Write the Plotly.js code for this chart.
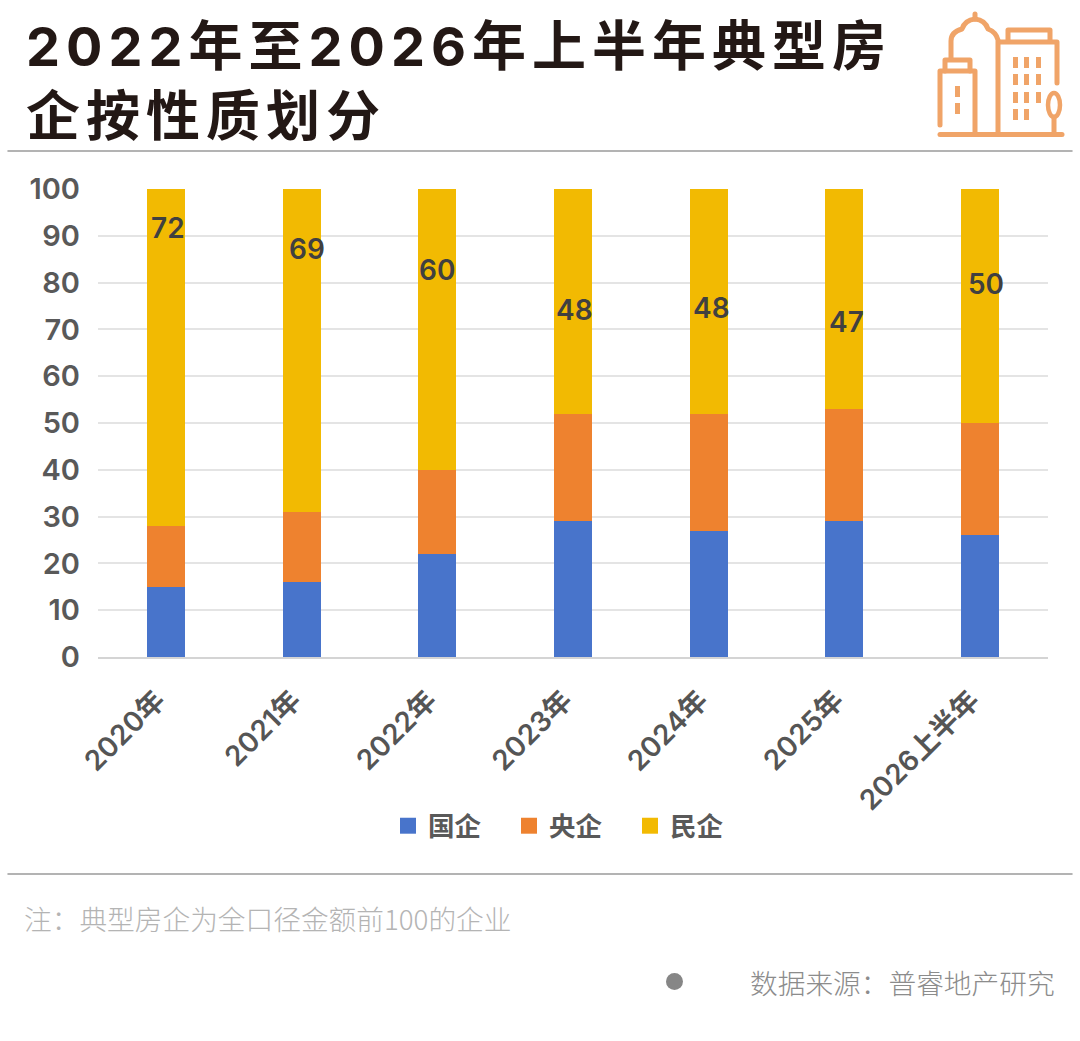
<!DOCTYPE html>
<html>
<head>
<meta charset="utf-8">
<script src="https://cdn.plot.ly/plotly-3.0.1.min.js"></script>
<style>
  body { margin: 0; background: #fff; }
  .gtitle { letter-spacing: 6px; }
  .shapelayer path { stroke-linecap: round; stroke-linejoin: round; }
  /* the legend squares are a bit bigger than plotly's 12px default */
  .legendpoints path { transform: translate(20px, 0) scale(1.33) !important; }
</style>
</head>
<body>
<div id="chart" style="width:1080px;height:1041px"></div>
<script>
var categories = ['2020年', '2021年', '2022年', '2023年', '2024年', '2025年', '2026上半年'];
var guoqi = [15, 16, 22, 29, 27, 29, 26];
var yangqi = [13, 15, 18, 23, 25, 24, 24];
var minqi = [72, 69, 60, 48, 48, 47, 50];

var W = 1080, H = 1041;
var CJK = '"Noto Sans CJK SC", "Noto Sans", sans-serif';
var DIGITS = 'Inter, "Noto Sans CJK SC", sans-serif';

function px(x) { return x / W; }
function py(y) { return 1 - y / H; }

function barTrace(name, values, color) {
    return {
        type: 'bar',
        name: name,
        x: categories,
        y: values,
        width: 0.28,
        marker: { color: color },
        hoverinfo: 'x+y+name'
    };
}

// the labels on the 民企 bars were dragged by hand in the original
var labelHeights = [91.7, 87.2, 82.8, 74.2, 74.6, 71.6, 79.6];
var labelShifts = [2, 5, 0, 1, 3, 2, 6];

var annotations = minqi.map(function (v, i) {
    return {
        x: categories[i], y: labelHeights[i], xref: 'x', yref: 'y',
        text: String(v), showarrow: false, xshift: labelShifts[i],
        font: { family: DIGITS, size: 28, color: '#404040', weight: 600 }
    };
});

function pageText(text, x, y, anchor, size, color) {
    return {
        text: text, x: px(x), y: py(y), xref: 'paper', yref: 'paper',
        xanchor: anchor, yanchor: 'middle', showarrow: false,
        font: { family: CJK, size: size, color: color, weight: 300 }
    };
}
annotations.push(pageText('注：典型房企为全口径金额前100的企业', 22, 918, 'left', 27.7, '#b4b4b4'));
annotations.push(pageText('数据来源：普睿地产研究', 1057, 982, 'right', 27.7, '#8c8c8c'));

function pageLine(x0, y, x1, color, width) {
    return {
        type: 'line', xref: 'paper', yref: 'paper',
        x0: px(x0), x1: px(x1), y0: py(y), y1: py(y),
        line: { color: color, width: width }
    };
}

// turn page pixels into paper coordinates for a path shape
function iconPath(points) {
    return points.map(function (seg) {
        return seg[0] + seg.slice(1).map(function (n, i) {
            return i % 2 === 0 ? px(n) : py(n);
        }).join(',');
    }).join(' ');
}

var iconColor = '#f0a468';
var iconStrokes = [
    [['M', 940, 134.5], ['L', 1062, 134.5]],
    [['M', 940, 125], ['L', 940, 71], ['L', 975, 71], ['L', 975, 134]],
    [['M', 945, 71], ['L', 945, 60], ['L', 970, 60], ['L', 970, 71]],
    [['M', 951, 58], ['L', 951, 41], ['Q', 951, 32, 962, 29], ['Q', 965, 20, 975, 19], ['Q', 985, 20, 988, 29], ['Q', 996, 32, 998, 40], ['L', 998, 134]],
    [['M', 975, 19], ['L', 975, 14]],
    [['M', 1000, 42], ['L', 1057, 42], ['L', 1057, 83]],
    [['M', 1008, 41], ['L', 1008, 30], ['L', 1050, 30], ['L', 1050, 41]],
    [['M', 1054, 117], ['L', 1054, 134]]
];

var shapes = [
    pageLine(8, 151, 1072, '#9a9a9a', 1.5),
    pageLine(8, 874, 1072, '#9a9a9a', 1.5),
    {
        type: 'circle', xref: 'paper', yref: 'paper',
        x0: px(666), x1: px(683), y0: py(973), y1: py(990),
        fillcolor: '#868686', line: { width: 0 }
    },
    {
        type: 'circle', xref: 'paper', yref: 'paper',
        x0: px(1048), x1: px(1060), y0: py(93), y1: py(117),
        line: { color: iconColor, width: 4.5 }
    }
];

iconStrokes.forEach(function (points) {
    shapes.push({
        type: 'path', xref: 'paper', yref: 'paper', path: iconPath(points),
        line: { color: iconColor, width: 5 }
    });
});

// window blocks of the two towers
function iconWindow(x, y, w, h) {
    shapes.push({
        type: 'rect', xref: 'paper', yref: 'paper',
        x0: px(x), x1: px(x + w), y0: py(y), y1: py(y + h),
        fillcolor: iconColor, line: { width: 0 }
    });
}
iconWindow(955, 86, 5, 11);
iconWindow(955, 103, 5, 11);
[1013, 1024, 1036].forEach(function (x, col) {
    [57, 74, 92, 109].forEach(function (y, row) {
        if (col < 2 || row < 3) {
            iconWindow(x, y, 5, 11);
        }
    });
});

var data = [
    barTrace('国企', guoqi, '#4874cb'),
    barTrace('央企', yangqi, '#ee822f'),
    barTrace('民企', minqi, '#f2ba02')
];

var layout = {
    width: W,
    height: H,
    margin: { l: 0, r: 0, t: 0, b: 0 },
    paper_bgcolor: '#fff',
    plot_bgcolor: '#fff',
    barmode: 'stack',
    title: {
        text: '2022年至2026年上半年典型房<br>企按性质划分',
        x: px(26), xanchor: 'left', xref: 'paper',
        y: py(66), yanchor: 'middle', yref: 'paper',
        font: { family: DIGITS, size: 54, color: '#231815', weight: 700 }
    },
    xaxis: {
        domain: [px(98), px(1048)],
        type: 'category',
        range: [-0.5, 6.5],
        tickangle: -45,
        ticks: '',
        ticklabelstandoff: 14,
        ticklabelshift: -9,
        showgrid: false,
        showline: true,
        linecolor: '#d4d4d4',
        linewidth: 1.5,
        tickfont: { family: DIGITS, size: 28, color: '#555555', weight: 600 }
    },
    yaxis: {
        domain: [py(657), py(189)],
        range: [0, 100],
        dtick: 10,
        ticks: '',
        ticklabelstandoff: 17,
        gridcolor: '#e4e4e4',
        gridwidth: 1.5,
        zeroline: false,
        tickfont: { family: DIGITS, size: 29, color: '#595959', weight: 600 }
    },
    legend: {
        orientation: 'h',
        traceorder: 'normal',
        x: px(388), xanchor: 'left',
        y: py(826), yanchor: 'middle',
        xref: 'paper', yref: 'paper',
        entrywidth: 76,
        entrywidthmode: 'pixels',
        font: { family: CJK, size: 26.5, color: '#595959', weight: 700 }
    },
    annotations: annotations,
    shapes: shapes
};

Plotly.newPlot('chart', data, layout, { displayModeBar: false });
</script>
</body>
</html>
